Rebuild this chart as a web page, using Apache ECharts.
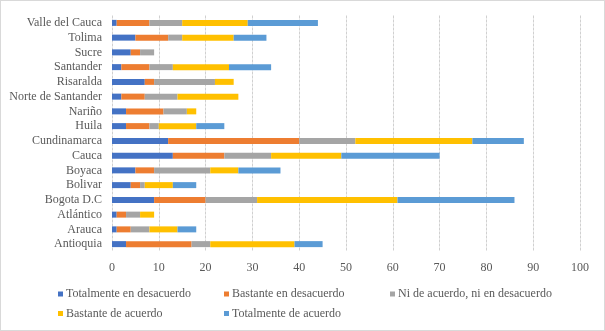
<!DOCTYPE html>
<html><head><meta charset="utf-8">
<script src="https://cdn.jsdelivr.net/npm/echarts@6/dist/echarts.min.js"></script>
<style>html,body{margin:0;padding:0;background:#fff}#c{width:605px;height:331px;box-sizing:border-box;border:1px solid #d9d9d9}</style>
</head><body><div id="c"></div>
<script>
const categories = ['Antioquia','Arauca','Atlántico','Bogota D.C','Bolivar','Boyaca','Cauca','Cundinamarca','Huila','Nariño','Norte de Santander','Risaralda','Santander','Sucre','Tolima','Valle del Cauca'];
const seriesNames = ['Totalmente en desacuerdo','Bastante en desacuerdo','Ni de acuerdo, ni en desacuerdo','Bastante de acuerdo','Totalmente de acuerdo'];
const totalDes = [3,1,1,9,4,5,13,12,3,3,2,7,2,4,5,1];
const bastDes  = [14,3,2,11,2,4,11,28,5,8,5,2,6,2,7,7];
const niNi     = [4,4,3,11,1,12,10,12,2,5,7,13,5,3,3,7];
const bastAc   = [18,6,3,30,6,6,15,25,8,2,13,4,12,0,11,14];
const totalAc  = [6,4,0,25,5,9,21,11,6,0,0,0,9,0,7,15];
const xTicks = [0,10,20,30,40,50,60,70,80,90,100];

const values = [totalDes,bastDes,niNi,bastAc,totalAc];
const colors = ['#4472C4','#ED7D31','#A5A5A5','#FFC000','#5B9BD5'];
const font = '"Liberation Serif","Times New Roman",serif';
const legendPos = [[57,287],[223,287],[389,287],[57,306.5],[223,306.5]];

const chart = echarts.init(document.getElementById('c'));
chart.setOption({
  animation:false,
  color: colors,
  grid:{left:111,right:24,top:14.5,bottom:78.5},
  xAxis:{type:'value',min:xTicks[0],max:xTicks[xTicks.length-1],interval:10,
    axisLine:{show:false},axisTick:{show:false},
    axisLabel:{color:'#595959',fontFamily:font,fontSize:12,margin:10},
    splitLine:{show:true,lineStyle:{color:'#d0d0d0',type:[3,1],width:1}}},
  yAxis:{type:'category',data:categories,
    axisLine:{show:false},axisTick:{show:false},
    axisLabel:{color:'#595959',fontFamily:font,fontSize:12,margin:10,interval:0}},
  legend: seriesNames.map((n,i)=>({
    data:[n],left:legendPos[i][0],top:legendPos[i][1],itemWidth:5,itemHeight:5,itemGap:0,
    icon:'rect',padding:0,
    textStyle:{color:'#595959',fontFamily:font,fontSize:12,padding:[0,0,0,-2]}
  })),
  series: seriesNames.map((n,i)=>({
    name:n,type:'bar',stack:'total',data:values[i],barWidth:6,
    itemStyle:{color:colors[i]}
  }))
});
</script></body></html>
